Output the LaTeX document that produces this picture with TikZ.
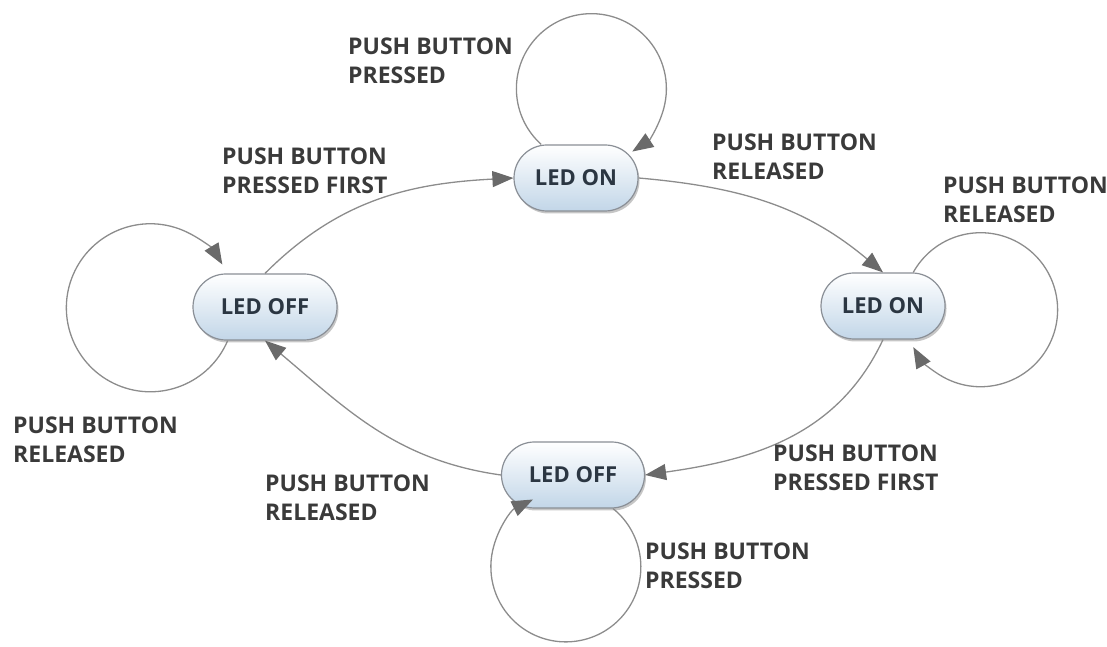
\documentclass[tikz,border=0pt]{standalone}
\usepackage{fontspec}
\setmainfont{Open Sans}
\usepackage{tikz}
\usetikzlibrary{arrows.meta, shadows}
\definecolor{linegray}{HTML}{8C8C8C}
\definecolor{tipgray}{HTML}{6A6A6A}
\definecolor{boxline}{HTML}{8A8F96}
\definecolor{boxblue}{HTML}{C2D6E8}
\definecolor{txtgray}{HTML}{3A3A3A}
\definecolor{statetxt}{HTML}{2B3642}

\begin{document}
\begin{tikzpicture}[x=1pt, y=1pt, >={Triangle[length=21pt, width=16pt, color=tipgray]},
  state/.style={rounded corners=33pt, minimum height=66pt, draw=boxline, line width=1.2pt,
    top color=white, bottom color=boxblue,
    drop shadow={shadow xshift=1.5pt, shadow yshift=-2.5pt, opacity=0.45},
    font=\bfseries\fontsize{22}{26}\selectfont, text=statetxt},
  trans/.style={->, draw=linegray, line width=1.3pt},
  cond/.style={align=left, anchor=west, inner sep=0pt,
    font=\bfseries\fontsize{23}{29}\selectfont, text=txtgray}]
  \useasboundingbox (0,0) rectangle (1107,647);
  % the four states
  \node[state, minimum width=124pt] (ton) at (576,469) {LED ON};
  \node[state, minimum width=144pt] (loff) at (265,340) {LED OFF};
  \node[state, minimum width=124pt] (ron) at (883,341) {LED ON};
  \node[state, minimum width=143pt] (boff) at (573,172) {LED OFF};
  % self loops
  \draw[trans] (ton.136) arc[start angle=228, end angle=-57, radius=75];
  \draw[trans] (loff.222) arc[start angle=-23, end angle=-329, radius=84];
  \draw[trans] (ron.48) arc[start angle=151, end angle=-151, radius=77];
  \draw[trans] (boff.320) arc[start angle=51, end angle=-244, radius=75];
  % transitions around the ring
  \draw[trans] (loff.north) to[out=45, in=183] (ton.west);
  \draw[trans] (ton.east) to[out=-5, in=140] (ron.north);
  \draw[trans] (ron.south) to[out=-115, in=8] (boff.east);
  \draw[trans] (boff.west) to[out=172, in=-40] (loff.south);
  % conditions
  \node[cond] (c1) at (348,586) {PUSH BUTTON\\PRESSED};
  \node[cond] (c2) at (222,476) {PUSH BUTTON\\PRESSED FIRST};
  \node[cond] (c3) at (712,490) {PUSH BUTTON\\RELEASED};
  \node[cond] (c4) at (943,447) {PUSH BUTTON\\RELEASED};
  \node[cond] (c5) at (13,207) {PUSH BUTTON\\RELEASED};
  \node[cond] (c6) at (265,149) {PUSH BUTTON\\RELEASED};
  \node[cond] (c7) at (773,179) {PUSH BUTTON\\PRESSED FIRST};
  \node[cond] (c8) at (645,81) {PUSH BUTTON\\PRESSED};
\end{tikzpicture}
\end{document}
